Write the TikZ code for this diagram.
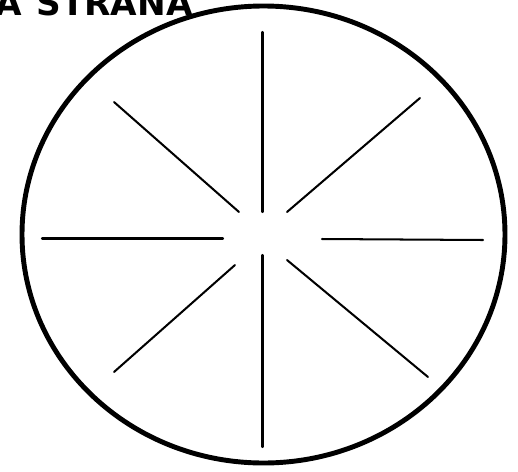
\documentclass[tikz,border=0pt]{standalone}
\usepackage{fontspec}
\newfontfamily\headfont{DejaVu Sans}
\tikzset{
  rim/.style={line width=2.8pt},
  spoke/.style={line width=1.15pt, line cap=round}
}
\begin{document}
\begin{tikzpicture}[x=0.02cm,y=-0.02cm]
\useasboundingbox (0,0) rectangle (518,471);
\clip (0,0) rectangle (518,471);
\fill[white] (0,0) rectangle (518,471);

% heading, cut off at the top edge
\node[anchor=base east, inner sep=0pt, font=\headfont\bfseries\fontsize{19.5}{19.5}\selectfont] (title) at (193,15) {A\hspace{8pt}STRANA};

% the wheel
\draw[rim] (263.5,234.5) ellipse [x radius=241.5, y radius=228.5];

% spokes
\draw[spoke] (262.5,32) -- (262.5,212);
\draw[spoke] (262.5,255) -- (262.5,447);
\draw[spoke] (42,238.5) -- (223,238.5);
\draw[spoke] (322,239) -- (483,240);
\draw[spoke] (114,102) -- (239,212);
\draw[spoke] (287,212) -- (420,98);
\draw[spoke] (235,265) -- (114,372);
\draw[spoke] (287,260) -- (428,377);
\end{tikzpicture}
\end{document}
